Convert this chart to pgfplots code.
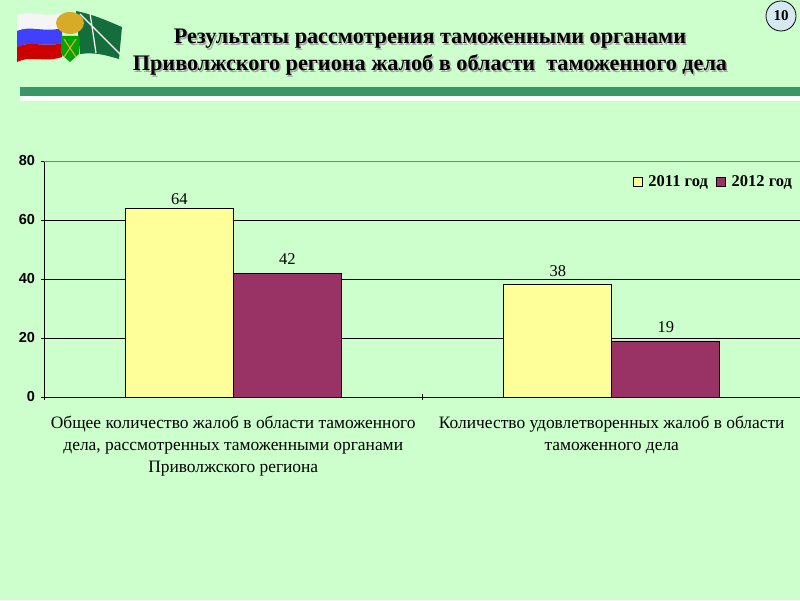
\documentclass[border=0pt]{standalone}
\usepackage{fontspec}
\setmainfont{Liberation Serif}
\newfontfamily\arialfont{Liberation Sans}
\usepackage{pgfplots}
\pgfplotsset{compat=1.18}
\definecolor{bg}{RGB}{204,255,204}
\definecolor{bary}{RGB}{255,255,153}
\definecolor{barp}{RGB}{153,51,102}
\definecolor{band}{RGB}{58,150,102}
\definecolor{circ}{RGB}{214,232,240}
\definecolor{flaggreen}{RGB}{20,110,60}
\definecolor{gold}{RGB}{215,170,40}
\pgfplotstableread{
x y off
0 64 -5
1 38 0
}\tabA
\pgfplotstableread{
x y off
0 42 0
1 19 0
}\tabB
\begin{document}
\begin{tikzpicture}[x=1pt,y=1pt]
\useasboundingbox (0,0) rectangle (800,600);
\fill[bg] (0,0) rectangle (800,600);
% logo (approximation)
\fill[white!92!gray] (17,585) .. controls (30,590) and (45,582) .. (62,587) -- (62,572) .. controls (45,567) and (30,575) .. (17,569) -- cycle;
\fill[blue!75!white] (17,569) .. controls (30,575) and (45,567) .. (62,572) -- (62,557) .. controls (45,552) and (30,560) .. (17,553) -- cycle;
\fill[red!80!black] (17,553) .. controls (30,560) and (45,552) .. (62,557) -- (62,543) .. controls (45,537) and (30,545) .. (17,538) -- cycle;
\fill[flaggreen] (76,589) .. controls (95,585) and (105,580) .. (122,573) -- (119,541) .. controls (105,545) and (95,548) .. (80,546) -- cycle;
\draw[white,line width=1.2pt] (80,586) -- (120,546) (90,587) -- (96,547);
\fill[gold] (70,577) ellipse (14 and 11);
\fill[green!65!black] (61,564) -- (79,564) -- (79,546) -- (70,538) -- (61,546) -- cycle;
\draw[gold,line width=1.2pt] (64,561) -- (76,543) (76,561) -- (64,543);
% page number
\filldraw[fill=circ,draw=black,line width=0.8pt] (781,584) circle (15);
\node[font=\bfseries\fontsize{15}{17}\selectfont] at (781,584) {10};
% title
\foreach \dx/\dy/\c in {1.5/-1.5/gray!70, 0/0/black}{
  \node[anchor=base, font=\bfseries\fontsize{22.2}{24}\selectfont, text=\c] at (430+\dx,556+\dy) {Результаты рассмотрения таможенными органами};
  \node[anchor=base, font=\bfseries\fontsize{22.2}{24}\selectfont, text=\c] at (430+\dx,529+\dy) {Приволжского региона жалоб в области \ таможенного дела};
}
% rule
\fill[band] (20,504) rectangle (800,513);
\fill[white!85!bg] (20,499) rectangle (800,504);
\begin{axis}[
  at={(44pt,203pt)}, anchor=south west,
  scale only axis, width=757pt, height=236pt,
  ybar=0pt, bar width=108pt,
  xmin=-0.5, xmax=1.5, ymin=0, ymax=80,
  xtick={0,1}, xticklabels={{Общее количество жалоб в области таможенного\\дела, рассмотренных таможенными органами\\Приволжского региона},{Количество удовлетворенных жалоб в области\\таможенного дела}},
  xticklabel style={align=center, font=\fontsize{17.4}{22}\selectfont, yshift=-13pt},
  major x tick style={draw=none},
  minor xtick={-0.5,0.5,1.5},
  minor x tick style={black, line width=0.8pt},
  minor tick length=6pt,
  ytick={0,20,40,60,80},
  yticklabel style={font=\arialfont\bfseries\fontsize{14.5}{16}\selectfont, xshift=-3pt},
  /pgf/number format/assume math mode=true,
  y tick style={black, line width=0.8pt},
  major tick length=5pt,
  tick align=outside,
  ymajorgrids, grid style={black, line width=0.8pt},
  axis lines=left, axis line style={-, black, line width=0.8pt},
  axis background/.style={fill=bg},
  nodes near coords,
  visualization depends on={\thisrow{off} \as \myoff},
  every node near coord/.append style={font=\fontsize{16.5}{18}\selectfont, black, yshift=\myoff pt+5pt},
  legend columns=2,
  legend style={draw=none, fill=none, at={(0.995,0.955)}, anchor=north east, font=\bfseries\fontsize{16.5}{18}\selectfont, /tikz/every even column/.append style={column sep=6pt}},
  legend image code/.code={\draw[#1, draw=black] (0pt,-4.5pt) rectangle (9pt,4.5pt); \path (13pt,0pt);},
  clip=false,
]
\addplot[fill=bary, draw=black, line width=0.8pt] table[x=x,y=y] {\tabA};
\addplot[fill=barp, draw=black, line width=0.8pt] table[x=x,y=y] {\tabB};
\legend{2011 год, 2012 год}
\draw[gray, line width=0.8pt] (axis cs:-0.5,80) -- (axis cs:1.5,80);
\end{axis}
\end{tikzpicture}
\end{document}
